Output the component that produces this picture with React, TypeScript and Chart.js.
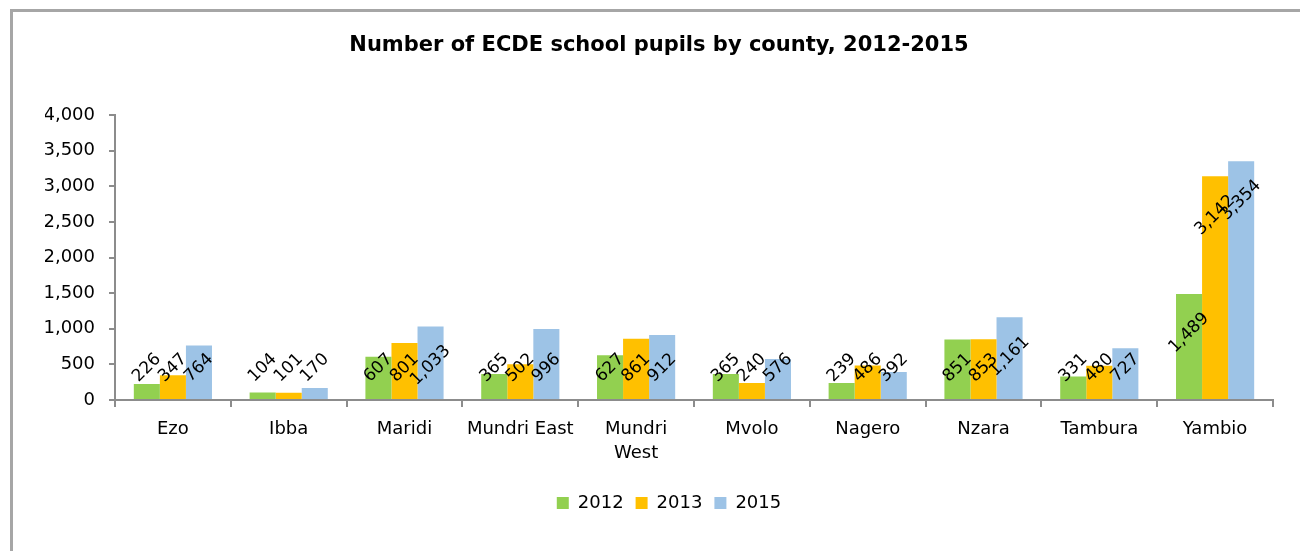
import React, { useEffect, useRef } from 'react';
import { Chart, registerables } from 'chart.js';

Chart.register(...registerables);

const categories = ['Ezo', 'Ibba', 'Maridi', 'Mundri East', 'Mundri West', 'Mvolo', 'Nagero', 'Nzara', 'Tambura', 'Yambio'];
const xTickLabels: (string | string[])[] = ['Ezo', 'Ibba', 'Maridi', 'Mundri East', ['Mundri', 'West'], 'Mvolo', 'Nagero', 'Nzara', 'Tambura', 'Yambio'];
const seriesNames = ['2012', '2013', '2015'];
const values2012 = [226, 104, 607, 365, 627, 365, 239, 851, 331, 1489];
const values2013 = [347, 101, 801, 502, 861, 240, 486, 853, 480, 3142];
const values2015 = [764, 170, 1033, 996, 912, 576, 392, 1161, 727, 3354];
const yMin = 0;
const yMax = 4000;
const yStep = 500;
const titleText = 'Number of ECDE school pupils by county, 2012-2015';

const FONT = '"DejaVu Sans", Verdana, sans-serif';
const AXIS_COLOR = '#8c8c8c';

const fmt = (v: number) => v.toLocaleString('en-US');

const frame = {
  id: 'frame',
  beforeDraw(chart: any) {
    const ctx = chart.ctx;
    ctx.save();
    ctx.fillStyle = '#ffffff';
    ctx.fillRect(0, 0, chart.width, chart.height);
    ctx.strokeStyle = '#a6a6a6';
    ctx.lineWidth = 3;
    ctx.beginPath();
    ctx.moveTo(11.5, chart.height);
    ctx.lineTo(11.5, 10.5);
    ctx.lineTo(chart.width, 10.5);
    ctx.stroke();
    ctx.restore();
  },
};

const legendShift = {
  id: 'legendShift',
  afterLayout(chart: any) {
    if (chart.legend) {
      chart.legend.left += 10;
      chart.legend.right += 10;
    }
  },
};

const barLabels = {
  id: 'barLabels',
  afterDatasetsDraw(chart: any) {
    const ctx = chart.ctx;
    ctx.save();
    ctx.font = `17px ${FONT}`;
    ctx.fillStyle = '#000';
    ctx.textAlign = 'center';
    ctx.textBaseline = 'middle';
    chart.data.datasets.forEach((ds: any, i: number) => {
      const meta = chart.getDatasetMeta(i);
      meta.data.forEach((bar: any, j: number) => {
        const v = ds.data[j] as number;
        const cy = Math.min(bar.y + 39, bar.base - 31);
        ctx.save();
        ctx.translate(bar.x, cy);
        ctx.rotate(-Math.PI / 4);
        ctx.fillText(fmt(v), 0, 0);
        ctx.restore();
      });
    });
    ctx.restore();
  },
};

export default function App() {
  const ref = useRef<HTMLCanvasElement | null>(null);

  useEffect(() => {
    if (!ref.current) return;
    const chart = new Chart(ref.current, {
      type: 'bar',
      data: {
        labels: categories,
        datasets: [
          { label: seriesNames[0], data: values2012, backgroundColor: '#92D050', borderWidth: 0 },
          { label: seriesNames[1], data: values2013, backgroundColor: '#FFC000', borderWidth: 0 },
          { label: seriesNames[2], data: values2015, backgroundColor: '#9DC3E6', borderWidth: 0 },
        ],
      },
      options: {
        animation: false,
        responsive: false,
        devicePixelRatio: 1,
        layout: { padding: { left: 45, right: 27, top: 0, bottom: 29 } },
        datasets: { bar: { categoryPercentage: 0.675, barPercentage: 1 } },
        plugins: {
          title: {
            display: true,
            text: titleText,
            color: '#000',
            font: { family: FONT, size: 21, weight: 'bold' },
            padding: { top: 33, bottom: 57 },
          },
          legend: {
            position: 'bottom',
            labels: {
              boxWidth: 12,
              boxHeight: 12,
              padding: 12,
              color: '#000',
              font: { family: FONT, size: 18 },
            },
          },
          tooltip: { enabled: false },
        },
        scales: {
          x: {
            grid: {
              offset: true,
              drawOnChartArea: false,
              drawTicks: true,
              tickLength: 7,
              color: AXIS_COLOR,
              lineWidth: 2,
            },
            border: { display: true, color: AXIS_COLOR, width: 2 },
            ticks: {
              color: '#000',
              font: { family: FONT, size: 18, lineHeight: 1.3 },
              padding: 11,
              maxRotation: 0,
              autoSkip: false,
              callback: (_v: any, i: number) => xTickLabels[i],
            },
            afterFit: (scale: any) => {
              scale.height = 82;
            },
          },
          y: {
            min: yMin,
            max: yMax,
            grid: {
              drawOnChartArea: false,
              drawTicks: true,
              tickLength: 6,
              color: AXIS_COLOR,
              lineWidth: 2,
            },
            border: { display: true, color: AXIS_COLOR, width: 2 },
            ticks: {
              stepSize: yStep,
              color: '#000',
              font: { family: FONT, size: 18 },
              padding: 14,
              callback: (v: any) => fmt(Number(v)),
            },
            afterFit: (scale: any) => {
              scale.width = 70;
            },
          },
        },
      },
      plugins: [frame, legendShift, barLabels],
    });
    return () => chart.destroy();
  }, []);

  return (
    <div style={{ position: 'fixed', left: 0, top: 0, width: 1300, height: 551, overflow: 'hidden', background: '#fff' }}>
      <canvas ref={ref} width={1300} height={551} style={{ position: 'absolute', left: 0, top: 0, display: 'block' }} />
    </div>
  );
}
